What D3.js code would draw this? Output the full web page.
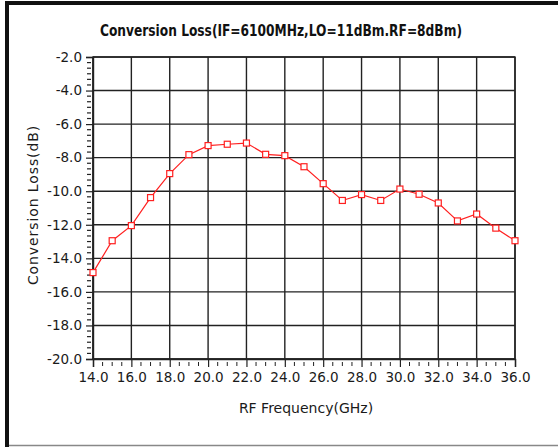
<!DOCTYPE html>
<html><head><meta charset="utf-8">
<script src="https://cdn.jsdelivr.net/npm/d3@7"></script>
<style>body{margin:0;background:#fff;}svg{display:block;}</style>
</head><body>
<svg id="c" width="558" height="447"></svg>
<script>
const freqs = [14,15,16,17,18,19,20,21,22,23,24,25,26,27,28,29,30,31,32,33,34,35,36];
const loss = [-14.85,-12.95,-12.05,-10.38,-8.95,-7.82,-7.28,-7.2,-7.13,-7.8,-7.88,-8.54,-9.55,-10.55,-10.2,-10.55,-9.87,-10.18,-10.7,-11.77,-11.36,-12.2,-12.95];
const xTicks = [14,16,18,20,22,24,26,28,30,32,34,36];
const yTicks = [-2,-4,-6,-8,-10,-12,-14,-16,-18,-20];
const titleText = "Conversion Loss(IF=6100MHz,LO=11dBm.RF=8dBm)";
const xTitle = "RF Frequency(GHz)";
const yTitle = "Conversion Loss(dB)";

const svg = d3.select("#c");
const L=93, R=515, T=57, B=359;
const x = d3.scaleLinear().domain([14,36]).range([L,R]);
const y = d3.scaleLinear().domain([-20,-2]).range([B,T]);
const font = "Tahoma, 'DejaVu Sans', sans-serif";
const fmt = d => d.toFixed(1);

// frame
svg.append("rect").attr("x",0).attr("y",0).attr("width",558).attr("height",447).attr("fill","#fff");
svg.append("rect").attr("x",5).attr("y",1).attr("width",553).attr("height",4).attr("fill","#111");
svg.append("rect").attr("x",5).attr("y",1).attr("width",4).attr("height",446).attr("fill","#111");
svg.append("line").attr("x1",9).attr("x2",558).attr("y1",445.5).attr("y2",445.5).attr("stroke","#888").attr("stroke-width",1.5);

// title
svg.append("text").attr("x",281).attr("y",36).attr("text-anchor","middle")
  .attr("font-family","'DejaVu Sans Condensed','DejaVu Sans', sans-serif").attr("font-weight","bold").attr("font-size",16)
  .attr("textLength",362).attr("lengthAdjust","spacingAndGlyphs").attr("fill","#111").text(titleText);

// grid
const g = svg.append("g");
g.selectAll(".vg").data(xTicks).join("line").attr("x1",d=>x(d)).attr("x2",d=>x(d)).attr("y1",T).attr("y2",B)
  .attr("stroke","#222").attr("stroke-width",1.4);
g.selectAll(".hg").data(yTicks).join("line").attr("x1",L).attr("x2",R).attr("y1",d=>y(d)).attr("y2",d=>y(d))
  .attr("stroke","#222").attr("stroke-width",1.4);
g.append("rect").attr("x",L).attr("y",T).attr("width",R-L).attr("height",B-T).attr("fill","none").attr("stroke","#222").attr("stroke-width",1.4);

// minor ticks
const xMinor = d3.range(14,36.01,0.5).filter(v=>Math.abs(v%2)>0.01);
const yMinor = d3.range(0,55).map(i=>-20+i/3).filter((v,i)=>i%6!==0);
svg.selectAll(".xm").data(xMinor).join("line").attr("x1",d=>x(d)).attr("x2",d=>x(d)).attr("y1",B+3).attr("y2",B+7).attr("stroke","#222").attr("stroke-width",1);
svg.selectAll(".ym").data(yMinor).join("line").attr("y1",d=>y(d)).attr("y2",d=>y(d)).attr("x1",L-6).attr("x2",L-2).attr("stroke","#222").attr("stroke-width",1.2);

// axes with major ticks
const xAxis = d3.axisBottom(x).tickValues(xTicks).tickFormat(fmt).tickSize(8).tickPadding(5);
const yAxis = d3.axisLeft(y).tickValues(yTicks).tickFormat(fmt).tickSize(7).tickPadding(4);
const gx = svg.append("g").attr("transform",`translate(0,${B})`).call(xAxis);
const gy = svg.append("g").attr("transform",`translate(${L},0)`).call(yAxis);
[gx,gy].forEach(a=>{
  a.select(".domain").attr("stroke","#222").attr("stroke-width",1.4);
  a.selectAll(".tick line").attr("stroke","#222").attr("stroke-width",1.2);
  a.selectAll("text").attr("font-family",font).attr("font-size",13.5).attr("fill","#1a1a1a");
});

// axis titles
svg.append("text").attr("x",306).attr("y",413).attr("text-anchor","middle").attr("font-family",font).attr("font-size",14).attr("fill","#1a1a1a").text(xTitle);
svg.append("text").attr("transform","translate(38,205) rotate(-90)").attr("text-anchor","middle").attr("font-family",font).attr("font-size",14).attr("fill","#1a1a1a").attr("letter-spacing",0.9).text(yTitle);

// series
const line = d3.line().x((d,i)=>x(freqs[i])).y(d=>y(d));
svg.append("path").datum(loss).attr("d",line).attr("fill","none").attr("stroke","#ff2020").attr("stroke-width",1.2);
svg.selectAll(".pt").data(loss).join("rect")
  .attr("x",(d,i)=>x(freqs[i])-3).attr("y",d=>y(d)-3).attr("width",6).attr("height",6)
  .attr("fill","#fff").attr("stroke","#ff2020").attr("stroke-width",1.2);
</script>
</body></html>
